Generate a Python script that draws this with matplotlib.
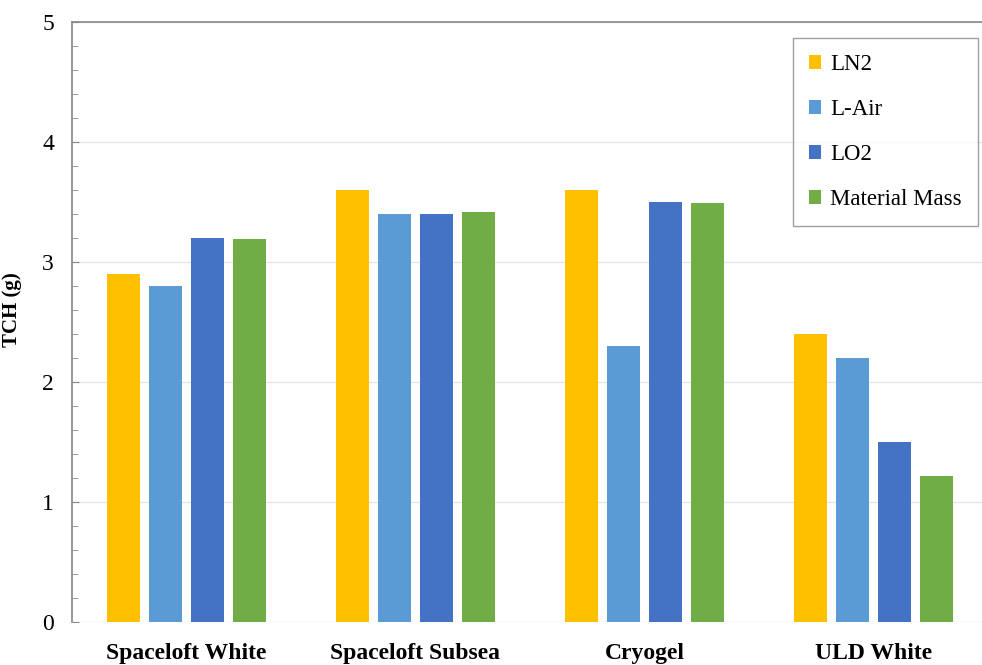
import numpy as np
import matplotlib.pyplot as plt
from matplotlib.ticker import MultipleLocator

materials = ['Spaceloft White', 'Spaceloft Subsea', 'Cryogel', 'ULD White']
series = ['LN2', 'L-Air', 'LO2', 'Material Mass']
ln2 = [2.9, 3.6, 3.6, 2.4]
lair = [2.8, 3.4, 2.3, 2.2]
lo2 = [3.2, 3.4, 3.5, 1.5]
mass = [3.19, 3.42, 3.49, 1.22]
colors = ['#FFC000', '#5B9BD5', '#4472C4', '#70AD47']

plt.rcParams['font.family'] = ['Liberation Serif', 'DejaVu Serif']

fig = plt.figure(figsize=(9.82, 6.65), dpi=100)
ax = fig.add_axes([72 / 982, 43 / 665, 910 / 982, 600 / 665])

x = np.arange(len(materials))
width = 0.144
step = 0.183
for i, (vals, name) in enumerate(zip([ln2, lair, lo2, mass], series)):
    ax.bar(x + (i - 1.5) * step, vals, width, color=colors[i], label=name,
           zorder=3)

ax.set_xlim(-0.5, 3.474)
ax.set_ylim(0, 5)
ax.yaxis.set_major_locator(MultipleLocator(1))
ax.yaxis.set_minor_locator(MultipleLocator(0.2))
ax.grid(axis='y', color='#e6e6e6', linewidth=1, zorder=0)
ax.set_xticks(x)
ax.set_xticklabels(materials, fontsize=17, fontweight='bold')
ax.tick_params(axis='x', length=0, pad=15)
ax.tick_params(axis='y', which='major', direction='in', length=5,
               color='#888888', labelsize=17, pad=13)
ax.tick_params(axis='y', which='minor', direction='in', length=4,
               color='#888888')
ax.set_ylabel('TCH (g)', fontsize=15, fontweight='bold')
ax.yaxis.set_label_coords(-0.055, 0.52)

for s in ['right', 'bottom']:
    ax.spines[s].set_visible(False)
for s in ['left', 'top']:
    ax.spines[s].set_color('#888888')
    ax.spines[s].set_linewidth(1.2)

leg = ax.legend(loc='upper right', bbox_to_anchor=(0.9956, 0.973),
                borderaxespad=0, fontsize=16.5, handlelength=0.55,
                handleheight=0.55, handletextpad=0.4, labelspacing=1.05,
                fancybox=False, edgecolor='#888888', borderpad=0.7)
leg.get_frame().set_linewidth(1.0)

fig.savefig('out.png', dpi=100)
